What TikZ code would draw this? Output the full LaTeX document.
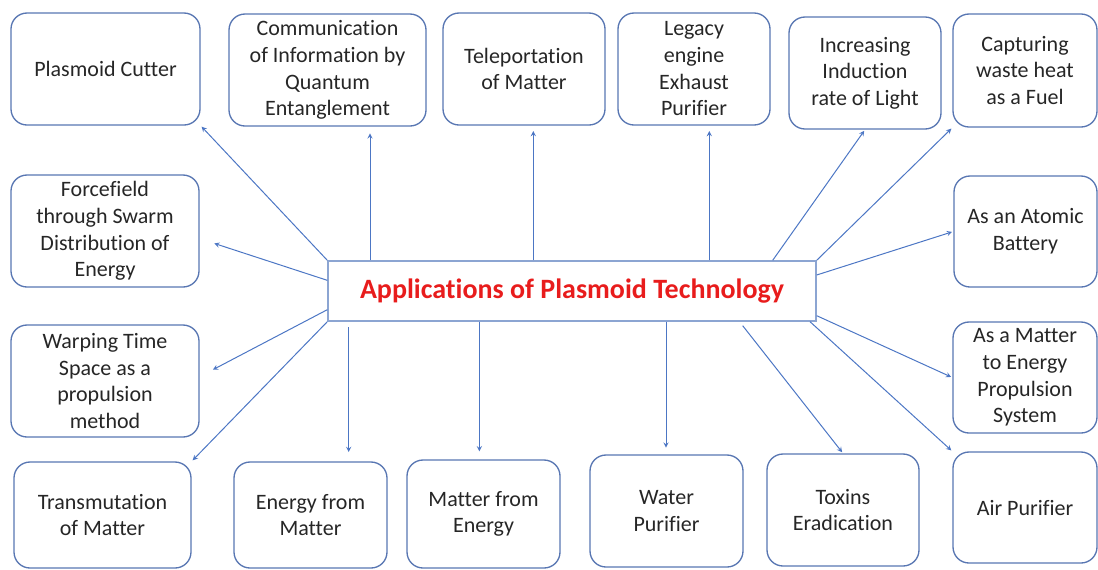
\documentclass[tikz,border=0pt]{standalone}
\usepackage{fontspec}
\setmainfont{Carlito}[Ligatures=NoCommon]
\definecolor{boxline}{RGB}{88,118,178}
\definecolor{linkblue}{RGB}{76,118,196}
\definecolor{hubline}{RGB}{140,165,210}
\definecolor{titlered}{RGB}{232,28,28}

\begin{document}
\begin{tikzpicture}[x=0.75pt, y=-0.75pt,
    app/.style={draw=boxline, line width=1pt, rounded corners=12pt, align=center, inner sep=0pt,
        font=\fontsize{16.5}{20}\selectfont, text=black!85},
    hub/.style={draw=hubline, line width=1pt, inner sep=0pt, minimum width=366pt, minimum height=45pt,
        font=\fontsize{21}{25}\selectfont\bfseries, text=titlered},
    link/.style={->, >=stealth, draw=linkblue, line width=0.75pt, shorten >=1pt}]
    \useasboundingbox (0,0) rectangle (1098,569);
    % centre box
    \node[hub] (hub) at (572,291) {Applications of Plasmoid Technology};
    % top row
    \node[app, minimum width=141.75pt, minimum height=84pt] (cutter) at (105.5,69) {Plasmoid Cutter};
    \node[app, minimum width=147.75pt, minimum height=84pt] (comm) at (327.5,70) {Communication\\of Information by\\Quantum\\Entanglement};
    \node[app, minimum width=121.5pt, minimum height=84pt] (teleport) at (524,69) {Teleportation\\of Matter};
    \node[app, minimum width=114pt, minimum height=84pt] (legacy) at (694,69) {Legacy\\engine\\Exhaust\\Purifier};
    \node[app, minimum width=114pt, minimum height=84pt] (induction) at (865,73) {Increasing\\Induction\\rate of Light};
    \node[app, minimum width=108pt, minimum height=84.75pt] (wasteheat) at (1025,70.5) {Capturing\\waste heat\\as a Fuel};
    % left and right columns
    \node[app, minimum width=141pt, minimum height=84pt] (forcefield) at (105,231) {Forcefield\\through Swarm\\Distribution of\\Energy};
    \node[app, minimum width=141pt, minimum height=84pt] (warping) at (105,381) {Warping Time\\Space as a\\propulsion\\method};
    \node[app, minimum width=107.25pt, minimum height=83.25pt] (battery) at (1025.5,231.5) {As an Atomic\\Battery};
    \node[app, minimum width=108pt, minimum height=83.25pt] (propulsion) at (1025,377.5) {As a Matter\\to Energy\\Propulsion\\System};
    % bottom row
    \node[app, minimum width=132.75pt, minimum height=79.5pt] (transmute) at (102.5,515) {Transmutation\\of Matter};
    \node[app, minimum width=114.75pt, minimum height=79.5pt] (energy) at (310.5,515) {Energy from\\Matter};
    \node[app, minimum width=114.75pt, minimum height=81pt] (matter) at (483.5,514) {Matter from\\Energy};
    \node[app, minimum width=114.75pt, minimum height=84pt] (water) at (666.5,511) {Water\\Purifier};
    \node[app, minimum width=114pt, minimum height=84pt] (toxins) at (843,510) {Toxins\\Eradication};
    \node[app, minimum width=108pt, minimum height=83.25pt] (air) at (1025,507.5) {Air Purifier};
    % feet of the straight arrows
    \coordinate (up1) at ([xshift=32pt]hub.north west);
    \coordinate (up2) at ([xshift=-29pt]hub.north);
    \coordinate (up3) at ([xshift=103pt]hub.north);
    \coordinate (dn1) at ([xshift=16pt,yshift=-4pt]hub.south west);
    \coordinate (dn2) at ([xshift=114pt]hub.south west);
    \coordinate (dn3) at ([xshift=70.5pt]hub.south);
    \draw[link, shorten >=5pt] (up1) -- (up1 |- comm.south);
    \draw[link, shorten >=4pt] (up2) -- (up2 |- teleport.south);
    \draw[link, shorten >=4pt] (up3) -- (up3 |- legacy.south);
    \draw[link, shorten >=7pt] (dn1) -- (dn1 |- energy.north);
    \draw[link, shorten >=6pt] (dn2) -- (dn2 |- matter.north);
    \draw[link, shorten >=5pt] (dn3) -- (dn3 |- water.north);
    % slanted arrows
    \draw[link] (hub.north west) -- (cutter.south east);
    \draw[link] ([yshift=8pt]hub.west) -- ([xshift=10pt,yshift=-9pt]forcefield.east);
    \draw[link] ([yshift=-14pt]hub.west) -- ([xshift=9pt,yshift=8pt]warping.east);
    \draw[link] (hub.south west) -- (transmute.north east);
    \draw[link] ([xshift=-33pt]hub.north east) -- (induction.south);
    \draw[link] (hub.north east) -- (wasteheat.south west);
    \draw[link] ([yshift=12pt]hub.east) -- (battery.west);
    \draw[link] ([yshift=4.5pt]hub.south east) -- (propulsion.west);
    \draw[link] ([xshift=-5pt]hub.south east) -- (air.north west);
    \draw[link] ([xshift=128pt,yshift=-3pt]hub.south) -- (toxins.north);
\end{tikzpicture}
\end{document}
